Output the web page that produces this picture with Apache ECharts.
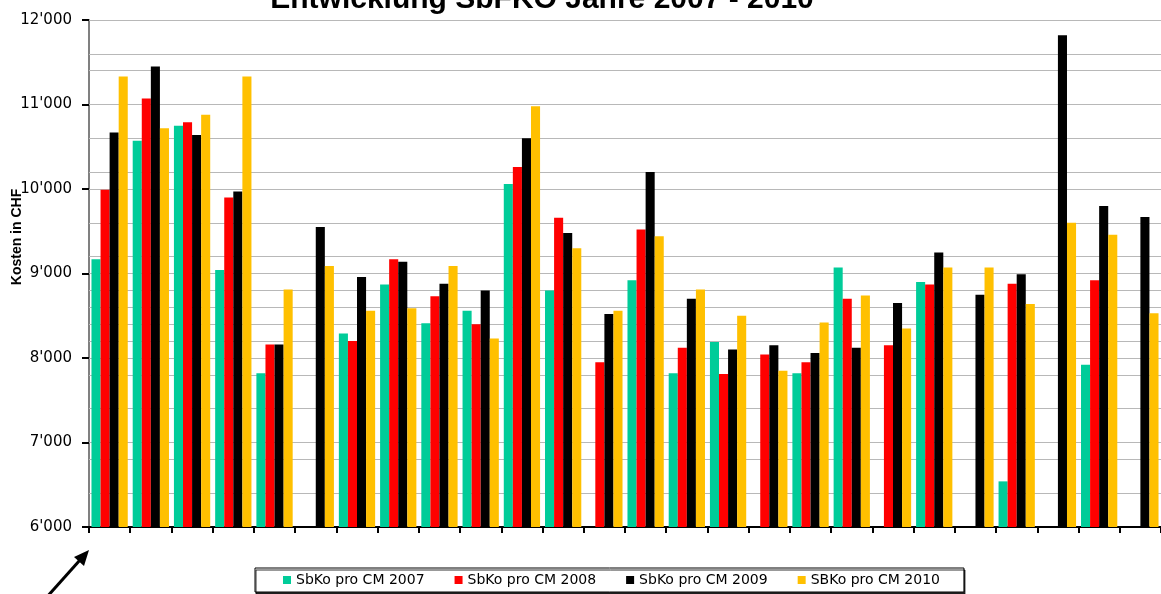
<!DOCTYPE html>
<html>
<head>
<meta charset="utf-8">
<script src="https://cdn.jsdelivr.net/npm/echarts@6/dist/echarts.min.js"></script>
<style>
  html, body { margin: 0; padding: 0; background: #fff; }
  #chart { width: 1161px; height: 594px; }
</style>
</head>
<body>
<div id="chart"></div>
<script>
// Kategorien (ohne Beschriftung in der Vorlage)
var categories = ['1', '2', '3', '4', '5', '6', '7', '8', '9', '10', '11', '12', '13',
  '14', '15', '16', '17', '18', '19', '20', '21', '22', '23', '24', '25', '26'];

// Kosten in CHF pro Jahr
var cm2007 = [9170, 10570, 10750, 9040, 7820, null, 8290, 8870, 8410, 8560, 10060, 8800, null,
  8920, 7820, 8190, null, 7820, 9070, null, 8900, null, 6540, null, 7920, null];
var cm2008 = [9990, 11070, 10790, 9900, 8160, null, 8200, 9170, 8730, 8400, 10260, 9660, 7950,
  9520, 8120, 7810, 8040, 7950, 8700, 8150, 8870, null, 8880, null, 8920, null];
var cm2009 = [10670, 11450, 10640, 9970, 8160, 9550, 8960, 9140, 8880, 8800, 10600, 9480, 8520,
  10200, 8700, 8100, 8150, 8060, 8120, 8650, 9250, 8750, 8990, 11820, 9800, 9670];
var cm2010 = [11330, 10720, 10880, 11330, 8810, 9090, 8560, 8590, 9090, 8230, 10980, 9300, 8560,
  9440, 8810, 8500, 7850, 8420, 8740, 8350, 9070, 9070, 8640, 9600, 9460, 8530];

var seriesNames = ['SbKo pro CM 2007', 'SbKo pro CM 2008', 'SbKo pro CM 2009', 'SBKo pro CM 2010'];
var colors = ['#00CC99', '#FF0000', '#000000', '#FFC000'];

// sichtbare Hilfslinien (alle 200 CHF, wie in der Vorlage)
var visibleMinor = [6400, 6800, 7000, 7400, 7800, 8000, 8200, 8400, 8600, 8800, 9000, 9200,
  9600, 10000, 10200, 10600, 11000, 11400, 11600, 12000];

var FONT = '"Liberation Sans", Arial, sans-serif';
var FONT2 = '"DejaVu Sans", sans-serif';

var chart = echarts.init(document.getElementById('chart'), null, { renderer: 'canvas' });

var option = {
  animation: false,
  title: {
    text: 'Entwicklung SbFKO Jahre 2007 - 2010',
    left: 537,
    textAlign: 'center',
    top: -20,
    textStyle: { fontFamily: FONT, fontSize: 30, fontWeight: 'bold', color: '#000' }
  },
  legend: {
    data: seriesNames,
    left: 255,
    top: 568,
    orient: 'horizontal',
    padding: [5, 24, 5, 28],
    itemWidth: 8,
    itemHeight: 8,
    itemGap: 30,
    icon: 'rect',
    borderColor: '#000',
    borderWidth: 1,
    shadowColor: 'rgba(0,0,0,0.8)',
    shadowOffsetX: 1,
    shadowOffsetY: 2,
    backgroundColor: '#fff',
    textStyle: { fontFamily: FONT2, fontSize: 14, color: '#000' }
  },
  grid: {
    left: 89,
    top: 20,
    height: 507,
    width: 26 * 41.65
  },
  xAxis: {
    type: 'category',
    data: categories,
    axisLine: { lineStyle: { color: '#000', width: 2 } },
    axisTick: { show: true, length: 6, lineStyle: { color: '#000', width: 2 } },
    axisLabel: { show: false },
    splitLine: { show: false }
  },
  yAxis: {
    type: 'value',
    min: 6000,
    max: 12000,
    interval: 1000,
    axisLine: { show: true, lineStyle: { color: '#808080', width: 2 } },
    axisTick: { show: true, length: 7, lineStyle: { color: '#000', width: 2 } },
    axisLabel: {
      margin: 17,
      fontFamily: FONT2,
      fontSize: 15,
      color: '#000',
      formatter: function (val) { return Math.round(val / 1000) + "'000"; }
    },
    splitLine: { show: false }
  },
  graphic: [{
    type: 'text',
    x: 17,
    y: 237,
    rotation: Math.PI / 2,
    style: {
      text: 'Kosten in CHF',
      fontFamily: FONT,
      fontSize: 14,
      fontWeight: 'bold',
      fill: '#000',
      textAlign: 'center',
      textVerticalAlign: 'middle'
    }
  }, {
    // Pfeil unten links
    type: 'line',
    shape: { x1: 46, y1: 598, x2: 80, y2: 560 },
    style: { stroke: '#000', lineWidth: 3 }
  }, {
    type: 'polygon',
    shape: { points: [[89, 550], [74, 557], [84, 566]] },
    style: { fill: '#000' }
  }],
  series: [cm2007, cm2008, cm2009, cm2010].map(function (d, i) {
    var s = {
      name: seriesNames[i],
      type: 'bar',
      data: d,
      barGap: '0%',
      barCategoryGap: '12%',
      itemStyle: { color: colors[i] },
      z: 3
    };
    if (i === 0) {
      // Gitterlinien
      s.markLine = {
        silent: true,
        symbol: 'none',
        label: { show: false },
        z: 1,
        lineStyle: { color: '#b8b8b8', width: 1, type: 'solid' },
        data: visibleMinor.map(function (y) { return { yAxis: y }; })
      };
    }
    return s;
  })
};

chart.setOption(option);
</script>
</body>
</html>
